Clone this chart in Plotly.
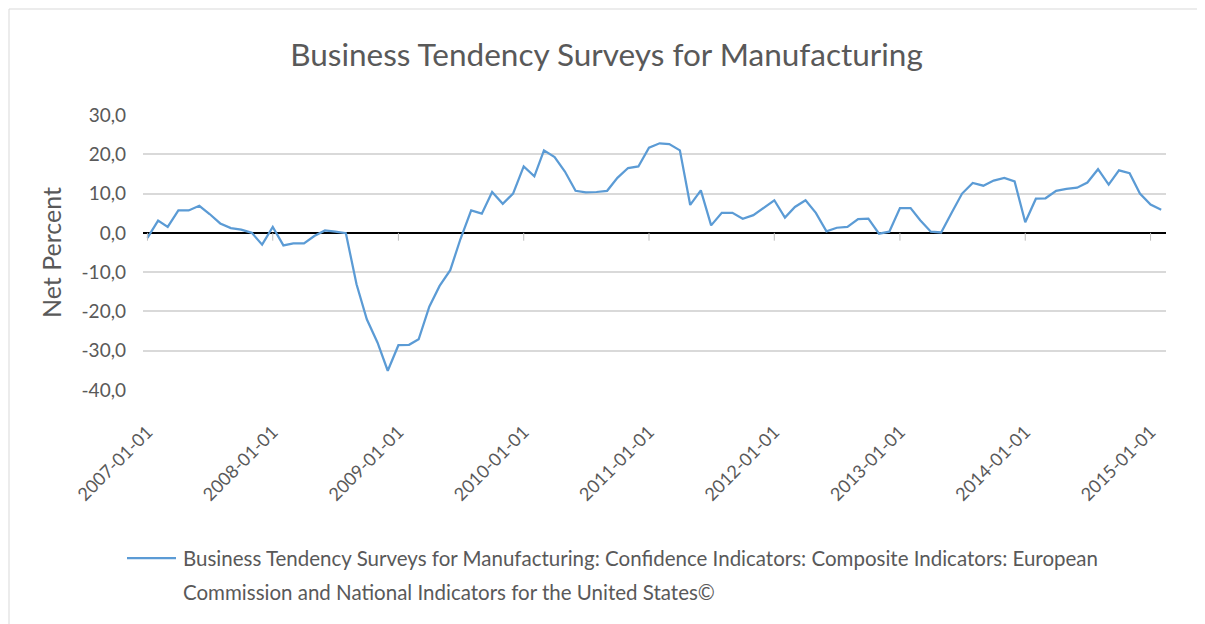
import pandas as pd
import plotly.graph_objects as go

# ---- data ----
start_month = "2007-01-01"
values = [
    -1.3, 3.1, 1.5, 5.7, 5.7, 6.9, 4.8, 2.4, 1.2, 0.8, 0.0, -3.0,
    1.5, -3.2, -2.7, -2.7, -0.8, 0.6, 0.3, -0.1, -13.1, -22.0, -27.9, -35.1,
    -28.6, -28.5, -27.1, -18.8, -13.5, -9.5, -1.5, 5.7, 4.9, 10.4, 7.4, 10.0,
    16.9, 14.4, 21.0, 19.3, 15.6, 10.7, 10.3, 10.4, 10.7, 14.0, 16.5, 16.9,
    21.7, 22.8, 22.6, 21.0, 7.1, 10.8, 1.9, 5.1, 5.1, 3.6, 4.5, 6.3,
    8.3, 3.9, 6.6, 8.3, 5.1, 0.4, 1.3, 1.5, 3.5, 3.6, -0.2, 0.3,
    6.3, 6.3, 3.2, 0.3, 0.1, 5.2, 10.0, 12.7, 12.0, 13.3, 14.0, 13.1,
    2.7, 8.7, 8.8, 10.7, 11.2, 11.5, 12.8, 16.2, 12.3, 15.9, 15.2, 10.0,
    7.2, 5.9,
]
dates = pd.date_range(start_month, periods=len(values), freq="MS")

x_tick_vals = [f"{y}-01-01" for y in range(2007, 2016)]
x_tick_text = [f"{y}-01-01" for y in range(2007, 2016)]
y_tick_vals = [30, 20, 10, 0, -10, -20, -30, -40]
y_tick_text = ["30,0", "20,0", "10,0", "0,0", "-10,0", "-20,0", "-30,0", "-40,0"]

title_text = "Business Tendency Surveys for Manufacturing"
series_name_line1 = "Business Tendency Surveys for Manufacturing: Confidence Indicators: Composite Indicators: European"
series_name_line2 = "Commission and National Indicators for the United States©"
y_title = "Net Percent"

# ---- figure ----
OFF = 8  # page body margin
W, H = 1205 - OFF, 624 - OFF
ml, mr, mt, mb = 143 - OFF, 39, 115 - OFF, 234
pw = W - ml - mr
ph = H - mt - mb


def px_x(px):
    return (px - OFF - ml) / pw


def px_y(py):
    return (H - mb - (py - OFF)) / ph


FONT = "Lato, 'Open Sans', sans-serif"
GRAY = "#595959"
BLUE = "#5B9BD5"

fig = go.Figure()
fig.add_trace(go.Scatter(
    x=dates, y=values, mode="lines",
    line=dict(color=BLUE, width=2.25),
    name=series_name_line1 + " " + series_name_line2,
    showlegend=False,
))

shapes = [
    dict(type="rect", xref="paper", yref="paper",
         x0=px_x(9), x1=px_x(1202), y0=px_y(640), y1=px_y(9),
         line=dict(color="#d9d9d9", width=1), layer="below"),
    dict(type="line", xref="paper", yref="paper",
         x0=px_x(127), x1=px_x(176), y0=px_y(558), y1=px_y(558),
         line=dict(color=BLUE, width=2.25)),
]
for tv in x_tick_vals:
    shapes.append(dict(type="line", xref="x", yref="y", x0=tv, x1=tv, y0=0, y1=-2,
                       line=dict(color="#bfbfbf", width=1)))

fig.update_layout(
    width=W, height=H,
    margin=dict(l=ml, r=mr, t=mt, b=mb),
    paper_bgcolor="white", plot_bgcolor="white",
    font=dict(family=FONT, color=GRAY),
    title=dict(text=title_text, x=0.5, xanchor="center", xref="container",
               y=1 - (55 - OFF) / H, yanchor="middle",
               font=dict(size=31.5, color=GRAY, family=FONT)),
    xaxis=dict(
        type="date",
        range=["2006-12-19", "2015-02-15"],
        tickmode="array", tickvals=x_tick_vals, ticktext=x_tick_text,
        tickangle=-45, tickfont=dict(size=18, color=GRAY),
        showgrid=False, zeroline=False, showline=False,
        ticks="", ticklabelstandoff=27,
    ),
    yaxis=dict(
        range=[-40, 30],
        tickmode="array", tickvals=y_tick_vals, ticktext=y_tick_text,
        tickfont=dict(size=19, color=GRAY),
        showgrid=True, gridcolor="#d9d9d9", gridwidth=1.5,
        zeroline=True, zerolinecolor="black", zerolinewidth=2,
        showline=False, ticks="", ticklabelstandoff=16,
        title=dict(text=y_title, font=dict(size=25, color=GRAY), standoff=12),
    ),
    shapes=shapes,
    annotations=[
        dict(text=series_name_line1, xref="paper", yref="paper",
             x=px_x(181), y=px_y(558), xanchor="left", yanchor="middle",
             showarrow=False, font=dict(size=20.5, color=GRAY, family=FONT)),
        dict(text=series_name_line2, xref="paper", yref="paper",
             x=px_x(181), y=px_y(592), xanchor="left", yanchor="middle",
             showarrow=False, font=dict(size=20.5, color=GRAY, family=FONT)),
    ],
)

fig.write_html("out.html")
